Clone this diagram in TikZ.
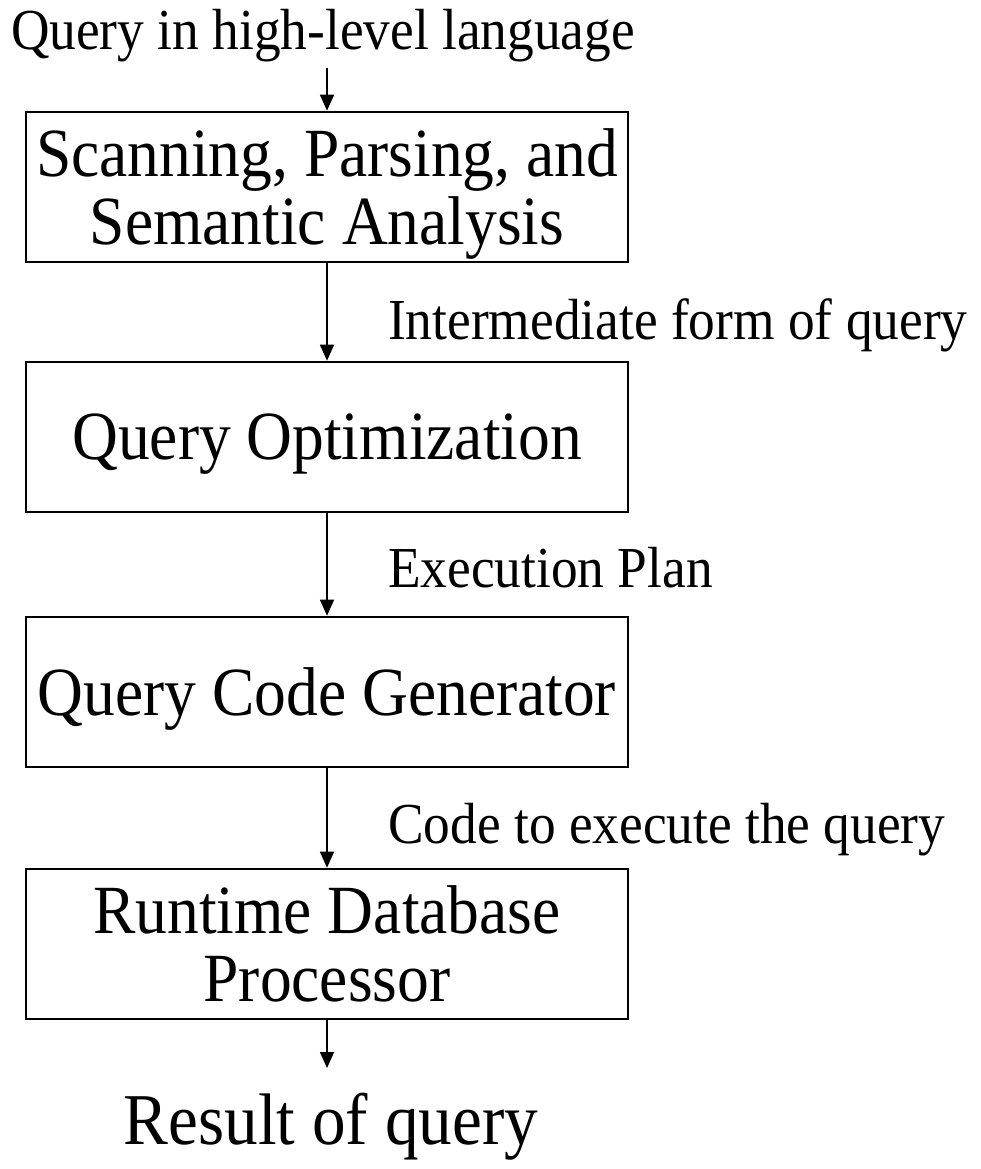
\documentclass[tikz,border=0pt]{standalone}
\usepackage{fontspec}
\setmainfont{Liberation Serif}[FakeStretch=0.92]
\usetikzlibrary{arrows.meta}

\tikzset{
    stage/.style={shape=rectangle, draw=black, line width=2.6pt, minimum width=602pt,
        minimum height=150pt, align=center, inner sep=0pt, text depth=0pt,
        font=\fontsize{69}{68}\selectfont},
    caption/.style={inner sep=0pt, font=\fontsize{58}{60}\selectfont},
    flow/.style={draw=black, line width=1.6pt, -{Triangle[length=16pt,width=14pt]}}
}

\begin{document}
\begin{tikzpicture}[x=1pt, y=1pt]
    \useasboundingbox (0,0) rectangle (980,-1169);

        \node[caption, anchor=base, inner sep=5pt] (query) at (323,-50) {Query in high-level language};
        \node[stage] (scan) at (327,-187) {Scanning, Parsing, and\\Semantic Analysis};
        \node[stage] (opt) at (327,-437) {Query Optimization};
        \node[stage] (gen) at (327,-692) {Query Code Generator};
        \node[stage] (run) at (327,-944) {Runtime Database\\Processor};
        \coordinate (out) at (327,-1068);
        \node[caption, anchor=base, font=\fontsize{73}{74}\selectfont] (result) at (331,-1144) {Result of query};

        \node[caption, anchor=base west] (inter) at (388,-339) {Intermediate form of query};
        \node[caption, anchor=base west] (plan) at (388,-587) {Execution Plan};
        \node[caption, anchor=base west] (code) at (388,-843) {Code to execute the query};

    \begin{scope}[every path/.style={flow}]
        \draw (query.south -| scan) -- (scan);
        \draw (scan) -- (opt);
        \draw (opt) -- (gen);
        \draw (gen) -- (run);
        \draw (run) -- (out);
    \end{scope}

\end{tikzpicture}
\end{document}
